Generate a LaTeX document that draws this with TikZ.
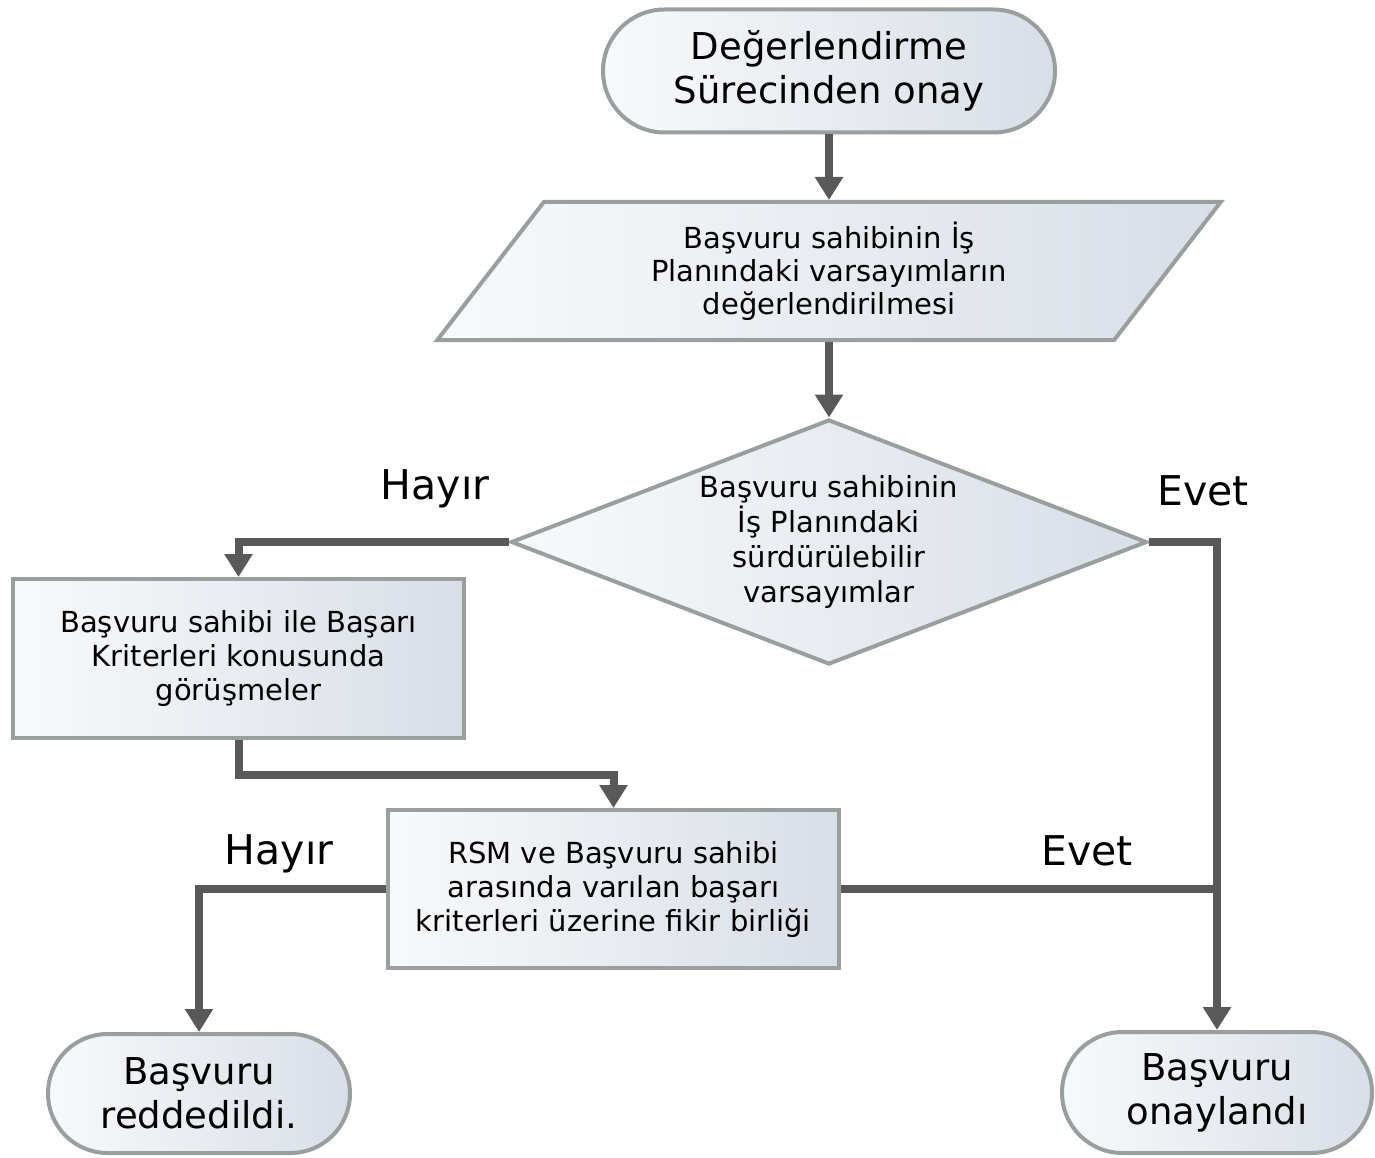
\documentclass[tikz,border=0pt]{standalone}
\usepackage{fontspec}
\setmainfont{DejaVu Sans}
\usetikzlibrary{shapes.geometric,shapes.misc,arrows.meta}
\definecolor{bord}{HTML}{999E9E}
\definecolor{conn}{HTML}{595959}
\definecolor{fillA}{HTML}{F8F9FA}
\definecolor{fillB}{HTML}{D9DEE7}
\begin{document}
\begin{tikzpicture}[x=1pt,y=-1pt,
  base/.style={draw=bord, line width=4pt, left color=fillA, right color=fillB, align=center, inner sep=0pt, text=black},
  term/.style={base, rounded rectangle, font=\fontsize{37}{44}\selectfont},
  proc/.style={base, rectangle, font=\fontsize{29}{34}\selectfont},
  link/.style={draw=conn, line width=8pt, -{Triangle[width=27pt,length=23pt]}},
  plainlink/.style={draw=conn, line width=8pt},
  lab/.style={font=\fontsize{41}{48}\selectfont, inner sep=0pt}]
\useasboundingbox (0,0) rectangle (1375,1158);

\node[term, minimum width=452pt, minimum height=123pt] (start) at (829,71) {Değerlendirme\\Sürecinden onay};
\node[base, trapezium, trapezium left angle=56, trapezium right angle=124, trapezium stretches=true,
      minimum width=784pt, minimum height=138pt, font=\fontsize{29}{33}\selectfont] (para) at (829,271)
      {Başvuru sahibinin İş\\Planındaki varsayımların\\değerlendirilmesi};
\node[base, diamond, shape aspect=2.6, minimum width=636pt, minimum height=245pt,
      font=\fontsize{29}{35}\selectfont] (dec) at (829,542)
      {Başvuru sahibinin\\İş Planındaki\\sürdürülebilir\\varsayımlar};
\node[proc, minimum width=451pt, minimum height=159pt] (b1) at (238.5,658.5)
      {Başvuru sahibi ile Başarı\\Kriterleri konusunda\\görüşmeler};
\node[proc, minimum width=451pt, minimum height=158pt] (b2) at (613.5,889)
      {RSM ve Başvuru sahibi\\arasında varılan başarı\\kriterleri üzerine fikir birliği};
\node[term, minimum width=302pt, minimum height=119pt] (t2) at (199,1093.5) {Başvuru\\reddedildi.};
\node[term, minimum width=310pt, minimum height=121pt] (t3) at (1217,1092.5) {Başvuru\\onaylandı};

\node[lab] (h1) at (435,489) {Hayır};
\node[lab] (e1) at (1203,491) {Evet};
\node[lab] (e2) at (1087,851) {Evet};
\node[lab] (h2) at (279,854) {Hayır};

\coordinate (bend) at (0,775);
\draw[link] (start.south) -- (start.south |- para.north);
\draw[link] (para.center |- para.south) -- (dec.north);
\draw[link] (dec.west) -| (b1.north);
\draw[link] (b1.south) -- (b1.south |- bend) -| (b2.north);
\draw[link] (dec.east) -| (t3.north);
\coordinate (join) at (t3.north |- b2.east);
\draw[plainlink] (b2.east) -- (join);
\draw[link] (b2.west) -| (t2.north);
\end{tikzpicture}
\end{document}
